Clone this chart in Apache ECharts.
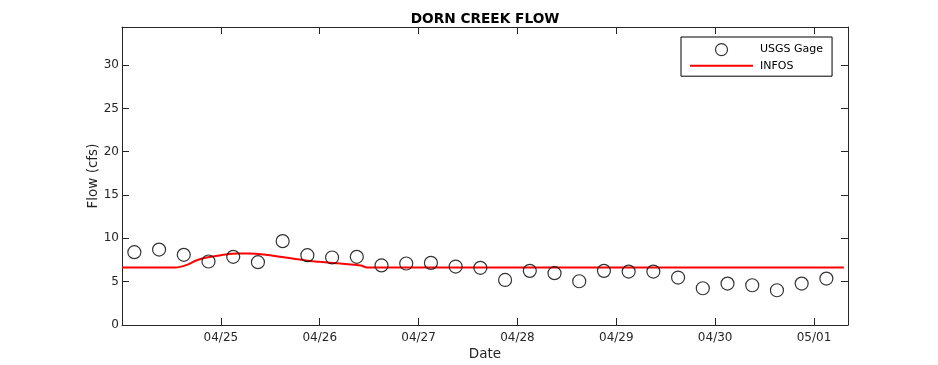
<!DOCTYPE html>
<html>
<head>
<meta charset="utf-8">
<script src="https://cdn.jsdelivr.net/npm/echarts@6/dist/echarts.min.js"></script>
<style>
html,body{margin:0;padding:0;background:#fff;}
#chart{width:938px;height:365px;}
</style>
</head>
<body>
<div id="chart"></div>
<script>
// ---- data ----
const gageTimes = [
  '2015-04-24 03:00','2015-04-24 09:00','2015-04-24 15:00','2015-04-24 21:00',
  '2015-04-25 03:00','2015-04-25 09:00','2015-04-25 15:00','2015-04-25 21:00',
  '2015-04-26 03:00','2015-04-26 09:00','2015-04-26 15:00','2015-04-26 21:00',
  '2015-04-27 03:00','2015-04-27 09:00','2015-04-27 15:00','2015-04-27 21:00',
  '2015-04-28 03:00','2015-04-28 09:00','2015-04-28 15:00','2015-04-28 21:00',
  '2015-04-29 03:00','2015-04-29 09:00','2015-04-29 15:00','2015-04-29 21:00',
  '2015-04-30 03:00','2015-04-30 09:00','2015-04-30 15:00','2015-04-30 21:00',
  '2015-05-01 03:00'
];
const gageFlow = [
  8.41, 8.71, 8.10, 7.33,
  7.87, 7.25, 9.68, 8.06,
  7.79, 7.87, 6.88, 7.10,
  7.17, 6.75, 6.60, 5.20,
  6.25, 5.98, 5.05, 6.25,
  6.17, 6.17, 5.48, 4.24,
  4.78, 4.59, 4.01, 4.78,
  5.36
];
const infosTimes = [
  '2015-04-24 00:00','2015-04-24 13:00','2015-04-24 15:45','2015-04-24 18:00',
  '2015-04-24 20:30','2015-04-25 00:00','2015-04-25 04:00','2015-04-25 07:00',
  '2015-04-25 10:30','2015-04-25 13:30','2015-04-25 17:00','2015-04-25 21:30',
  '2015-04-26 00:00','2015-04-26 05:00','2015-04-26 10:00','2015-04-26 11:30',
  '2015-05-01 07:15'
];
const infosFlow = [
  6.63, 6.63, 6.94, 7.44,
  7.79, 8.06, 8.25, 8.25,
  8.13, 7.94, 7.71, 7.40,
  7.29, 7.09, 6.86, 6.63,
  6.63
];
const xRange = ['2015-04-24 00:00', '2015-05-01 08:15'];
const yRange = [0, 34.4];
const yTickStep = 5;
const titleText = 'DORN CREEK FLOW';
const xName = 'Date';
const yName = 'Flow (cfs)';
const seriesNames = ['USGS Gage', 'INFOS'];

// ---- helpers ----
const DAY = 86400000;
function ts(s) { return new Date(s.replace(' ', 'T') + ':00Z').getTime(); }
function pad(n) { return (n < 10 ? '0' : '') + n; }
function fmtDate(v) { const d = new Date(v); return pad(d.getUTCMonth() + 1) + '/' + pad(d.getUTCDate()); }

const xMin = ts(xRange[0]);
const xMax = ts(xRange[1]);
const gageData = gageTimes.map((t, i) => [ts(t), gageFlow[i]]);
const infosData = infosTimes.map((t, i) => [ts(t), infosFlow[i]]);

const FONT = 'DejaVu Sans';
const AX = '#262626';

const chart = echarts.init(document.getElementById('chart'), null, { renderer: 'canvas' });

const baseX = {
  type: 'value', min: xMin, max: xMax, interval: DAY,
  axisLine: { show: true, onZero: false, lineStyle: { color: AX, width: 1 } },
  axisTick: { show: true, inside: true, length: 7, lineStyle: { color: AX } },
  splitLine: { show: false }
};
const baseY = {
  type: 'value', min: yRange[0], max: yRange[1], interval: yTickStep,
  axisLine: { show: true, onZero: false, lineStyle: { color: AX, width: 1 } },
  axisTick: { show: true, inside: true, length: 7, lineStyle: { color: AX } },
  splitLine: { show: false }
};

chart.setOption({
  animation: false,
  backgroundColor: '#ffffff',
  textStyle: { fontFamily: FONT },
  title: {
    text: titleText, left: 480, top: 7, textAlign: 'center',
    textStyle: { fontFamily: FONT, fontWeight: 'bold', fontSize: 13.7, color: '#000' }
  },
  grid: { left: 122, top: 27, right: 90, bottom: 40, containLabel: false, outerBoundsMode: 'none' },
  legend: {
    orient: 'vertical', left: 681, top: 37,
    padding: [6, 9, 5, 8], itemGap: 4, itemWidth: 63, itemHeight: 12,
    borderColor: '#000', borderWidth: 1, backgroundColor: '#fff',
    textStyle: { fontFamily: FONT, fontSize: 11, color: '#000', padding: [0, 0, 0, 2] },
    data: [
      { name: seriesNames[0], icon: 'circle', itemStyle: { color: 'rgba(0,0,0,0)', borderColor: '#000', borderWidth: 1.2 } },
      { name: seriesNames[1], itemStyle: { color: 'rgba(0,0,0,0)', borderColor: 'rgba(0,0,0,0)', borderWidth: 0 } }
    ]
  },
  xAxis: [
    Object.assign({}, baseX, {
      position: 'bottom',
      name: xName, nameLocation: 'middle', nameGap: 22, nameMoveOverlap: false,
      nameTextStyle: { fontFamily: FONT, fontSize: 13.5, color: AX },
      axisLabel: { show: true, color: AX, fontFamily: FONT, fontSize: 12, margin: 7,
        showMinLabel: false, showMaxLabel: false, formatter: fmtDate }
    }),
    Object.assign({}, baseX, { position: 'top', axisLabel: { show: false } })
  ],
  yAxis: [
    Object.assign({}, baseY, {
      position: 'left',
      name: yName, nameLocation: 'middle', nameGap: 22, nameRotate: 90, nameMoveOverlap: false,
      nameTextStyle: { fontFamily: FONT, fontSize: 13.5, color: AX },
      axisLabel: { show: true, color: AX, fontFamily: FONT, fontSize: 12, margin: 3,
        showMaxLabel: false, formatter: v => (v % yTickStep === 0 ? String(v) : '') }
    }),
    Object.assign({}, baseY, { position: 'right', axisLabel: { show: false } })
  ],
  series: [
    {
      name: seriesNames[0], type: 'scatter', xAxisIndex: 0, yAxisIndex: 0,
      data: gageData, symbol: 'circle', symbolSize: 13,
      itemStyle: { color: 'rgba(0,0,0,0)', borderColor: '#000', borderWidth: 1.2 },
      z: 3
    },
    {
      name: seriesNames[1], type: 'line', xAxisIndex: 0, yAxisIndex: 0,
      data: infosData, showSymbol: false, symbol: 'none', smooth: 0.3,
      lineStyle: { color: '#ff0000', width: 2 },
      itemStyle: { color: '#ff0000' },
      z: 2
    }
  ]
});
</script>
</body>
</html>
